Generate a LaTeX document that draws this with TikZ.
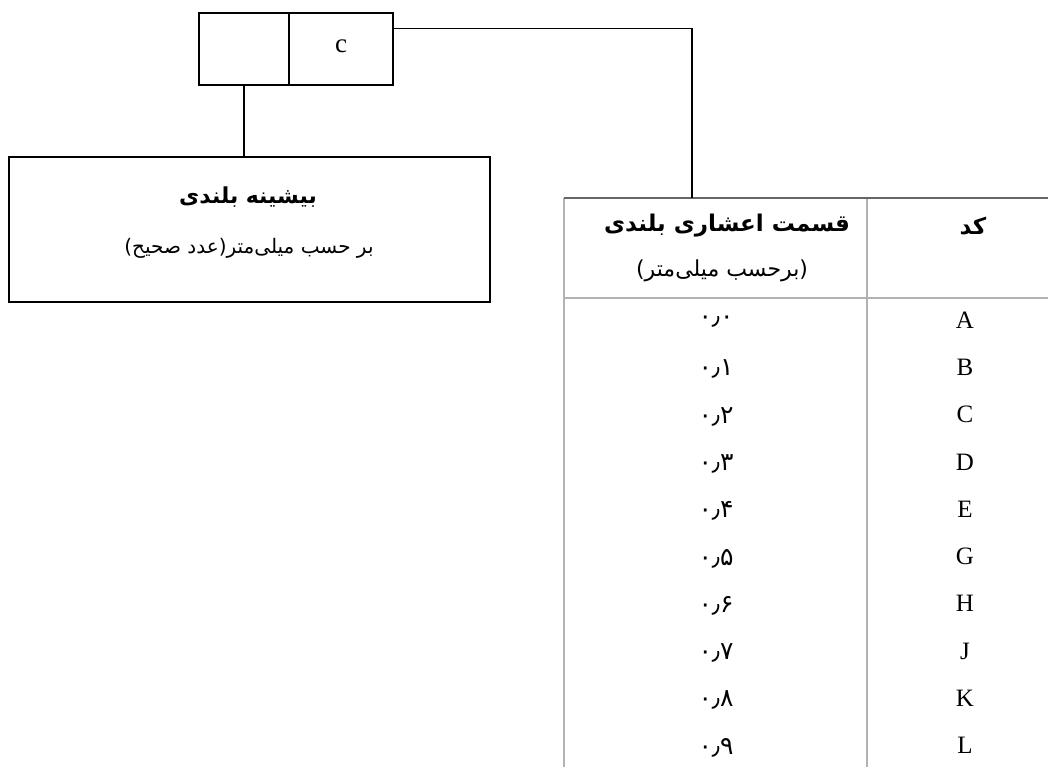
\documentclass[tikz,border=0pt]{standalone}
\usepackage{fontspec}
\setmainfont{Liberation Serif}
\newfontfamily\fa[Script=Arabic]{DejaVu Sans}
\newfontfamily\fanum{DejaVu Sans}
\TeXXeTstate=1
\usetikzlibrary{calc}
\begin{document}
\begin{tikzpicture}[x=1pt,y=-1pt,
  box/.style={draw=black,line width=1.3pt,minimum width=#1,inner sep=0pt},
  wire/.style={draw=black,line width=1.3pt},
  grid/.style={draw=gray!60,line width=2.8pt},
  gridtop/.style={draw=gray!80!black,line width=2.6pt},
  latin/.style={font=\fontsize{25}{27}\selectfont,inner sep=0pt},
  fatitle/.style={font=\fa\bfseries\fontsize{22}{24}\selectfont,inner sep=0pt},
  fahead/.style={font=\fa\bfseries\fontsize{23}{25}\selectfont,inner sep=0pt},
  fatext/.style={font=\fa\fontsize{20}{22}\selectfont,inner sep=0pt},
  fasub/.style={font=\fa\fontsize{22}{24}\selectfont,inner sep=0pt},
  num/.style={font=\fanum\fontsize{25}{27}\selectfont,inner sep=0pt}]
\useasboundingbox (0,0) rectangle (1048,766);
% small code box
\node[box=90pt,minimum height=72pt] (cL) at (244,49) {};
\node[box=104pt,minimum height=72pt] (cR) at (341,49) {};
\node[latin,font=\fontsize{27}{29}\selectfont] (cT) at (341,46) {c};
% max height box
\node[box=481pt,minimum height=145pt] (maxh) at (249.5,229.5) {};
\node[fatitle] (mt) at (248,197) {\beginR بیشینه بلندی\endR};
\node[fatext] (ms) at (249,248) {\beginR بر حسب میلی‌متر(عدد صحیح)\endR};
\draw[wire] (cL.south) -- (cL.south |- maxh.north);
% table
\coordinate (tTL) at (564,198);
\coordinate (tTR) at (1060,198);
\coordinate (tBL) at (564,780);
\coordinate (tHL) at (564,298);
\coordinate (tHR) at (1060,298);
\coordinate (tCT) at (867,198);
\coordinate (tCB) at (867,780);
\coordinate (tIn) at (692,198);
\draw[grid] (tTL) -- (tBL);
\draw[grid] (tCT) -- (tCB);
\draw[grid] (tHL) -- (tHR);
\draw[gridtop] (tTL) -- (tTR);
\draw[wire] ($(cR.north east)!0.22!(cR.south east)$) -| (tIn);
\node[fahead] (h1) at (727,226) {\beginR قسمت اعشاری بلندی\endR};
\node[fasub] (h2) at (722,271) {\beginR (برحسب میلی‌متر)\endR};
\node[fahead] (h3) at (973,226) {\beginR کد\endR};
\foreach \v/\c [count=\i from 0] in {۰/A,۱/B,۲/C,۳/D,۴/E,۵/G,۶/H,۷/J,۸/K,۹/L}{
  \node[num] (n\i) at (716,{322+47.3*\i}) {۰٫\v};
  \node[latin] (k\i) at (965,{320+47.3*\i}) {\c};
}
\end{tikzpicture}
\end{document}
